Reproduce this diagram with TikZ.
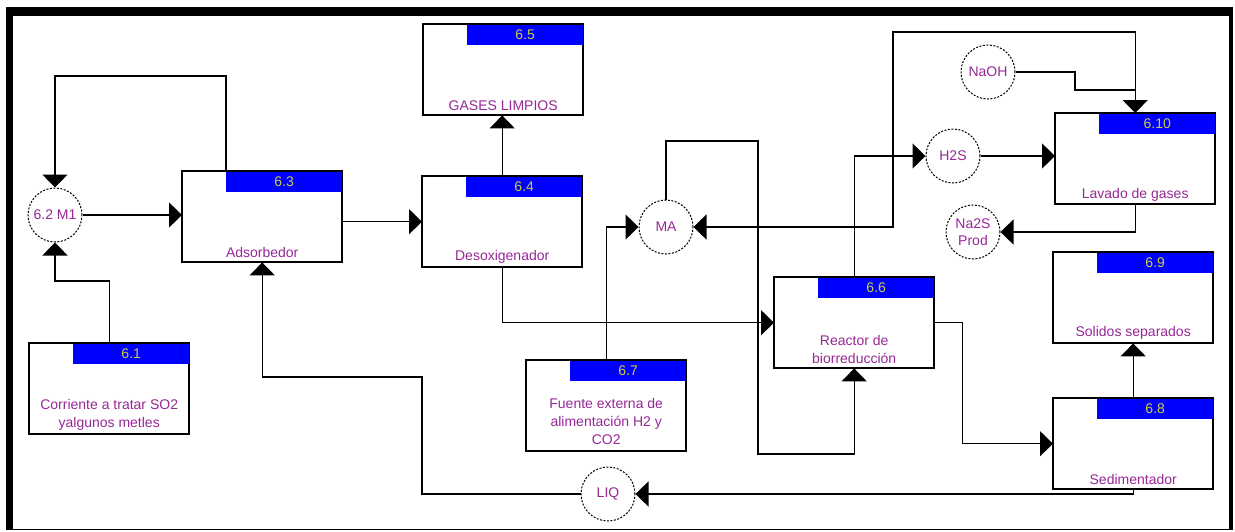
\documentclass[tikz,border=0pt]{standalone}
\usepackage{fontspec}
\setmainfont{Liberation Sans}
\usetikzlibrary{arrows.meta}
\definecolor{lbl}{RGB}{150,40,150}
\definecolor{hdrtxt}{RGB}{205,205,70}
\definecolor{hdrblue}{RGB}{0,0,255}
\tikzset{
  pbox/.style={draw, line width=1.4pt, minimum width=159pt, minimum height=90pt, inner sep=0pt, fill=white, anchor=north west},
  circ/.style={circle, draw, dash pattern=on 2pt off 1.5pt, line width=1pt, minimum size=54pt, inner sep=0pt, fill=white, text=lbl, font=\fontsize{14}{17}\selectfont, align=center},
  conn/.style={line width=1.4pt, -{Triangle[length=13pt,width=25pt]}},
  lbltext/.style={text=lbl, font=\fontsize{14}{18}\selectfont, align=center, inner sep=0pt},
  hdrtext/.style={text=hdrtxt, font=\fontsize{14}{16}\selectfont, inner sep=0pt},
}
\newcommand\pbx[4]{%
  \node[pbox] (#1) at (#2,#3) {};
  \fill[hdrblue] ([xshift=44pt]#1.north west) rectangle ([yshift=-21pt]#1.north east);
  \draw[line width=1.4pt] (#1.north west) rectangle (#1.south east);
  \node[hdrtext] (#1h) at ([xshift=22pt,yshift=-10.5pt]#1.north) {#4};
}
\begin{document}
\begin{tikzpicture}[x=1pt,y=-1pt]
\useasboundingbox (0,0) rectangle (1235,531);
% frame
\fill[black] (6,7) rectangle (1233,16);
\fill[black] (6,7) rectangle (13,530);
\fill[black] (1229,7) rectangle (1233,530);
\fill[black] (6,528.6) rectangle (1233,530);

% boxes
\pbx{b61}{29}{343}{6.1}
\pbx{b63}{182}{171}{6.3}
\pbx{b64}{422}{176}{6.4}
\pbx{b65}{423}{24}{6.5}
\pbx{b66}{774}{277}{6.6}
\pbx{b67}{526}{360}{6.7}
\pbx{b68}{1053}{398}{6.8}
\pbx{b69}{1053}{252}{6.9}
\pbx{b610}{1055}{113}{6.10}

% labels
\node[lbltext] (l61) at ([yshift=19.5pt]b61.south) {Corriente a tratar SO2\\yalgunos metles};
\node[lbltext] (l63) at ([yshift=10pt]b63.south) {Adsorbedor};
\node[lbltext] (l64) at ([yshift=11pt]b64.south) {Desoxigenador};
\node[lbltext] (l65) at ([yshift=10pt]b65.south) {GASES LIMPIOS};
\node[lbltext] (l66) at ([yshift=18.5pt]b66.south) {Reactor de\\biorreducción};
\node[lbltext] (l67) at ([yshift=30pt]b67.south) {\fontsize{14}{17}\selectfont Fuente externa de\\alimentación H2 y\\CO2};
\node[lbltext] (l68) at ([yshift=10pt]b68.south) {Sedimentador};
\node[lbltext] (l69) at ([yshift=11pt]b69.south) {Solidos separados};
\node[lbltext] (l610) at ([yshift=10pt]b610.south) {Lavado de gases};

% circles
\node[circ] (m1) at (55,215) {6.2 M1};
\node[circ] (ma) at (666,227) {MA};
\node[circ] (liq) at (608,494) {LIQ};
\node[circ] (h2s) at (953,156) {H2S};
\node[circ] (naoh) at (988,72) {NaOH};
\node[circ] (na2s) at (973,232) {Na2S\\Prod};

% connectors
\draw[conn] (b61.north) -- ++(0,-62) -| (m1.south);
\draw[conn] ([xshift=44pt]b63.north west) -- ++(0,-95) -| (m1.north);
\draw[conn] (m1.east) -- (m1.east -| b63.west);
\draw[conn] (b64.west -| b63.east) -- (b64.west);
\draw[conn] (b64.north) -- (b64.north |- b65.south);
\draw[conn] (b64.south) |- (b66.west);
\draw[conn] (b67.north) |- (ma.west);
\draw[conn] (ma.north) |- (758,141) -- (758,454) -| (b66.south);
\draw[conn] (b66.north) |- (h2s.west);
\draw[conn] (h2s.east) -- (h2s.east -| b610.west);
\draw[conn] (naoh.east) -| (1075,90) -| (b610.north);
\draw[conn] (b610.north) |- (893,32) |- (ma.east);
\draw[conn] (b610.south) |- (na2s.east);
\draw[conn] (b66.east) -- ++(28,0) |- (b68.west);
\draw[conn] (b68.north) -- (b69.south);
\draw[conn] (b68.south) |- (liq.east);
\draw[conn] (liq.west) -| (422,377) -| (b63.south);
\end{tikzpicture}
\end{document}
